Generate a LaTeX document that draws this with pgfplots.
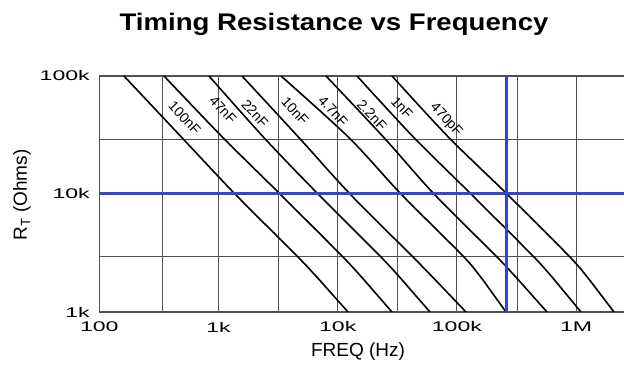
\documentclass[border=0pt]{standalone}
\usepackage{fontspec}
\setmainfont{Liberation Sans}
\newfontfamily\tickfont[FakeStretch=1.65]{Liberation Sans}
\newfontfamily\titlefont[FakeStretch=1.15]{Liberation Sans}
\usepackage{pgfplots}
\pgfplotsset{compat=1.18}
\definecolor{refblue}{RGB}{55,66,205}
\definecolor{gridgray}{RGB}{80,80,80}
\begin{document}
\begin{tikzpicture}
\path[use as bounding box] (-99.3pt,-67pt) rectangle (524.7pt,312pt);
\begin{axis}[
  at={(0pt,0pt)}, anchor=south west,
  scale only axis, width=524.7pt, height=236pt,
  xmode=log, ymode=log,
  xmin=100, xmax=2.523e6, ymin=1000, ymax=100000,
  axis x line*=bottom, axis y line*=left,
  axis line style={-, draw=gridgray, line width=1.6pt},
  xtick={100,1000,10000,100000,1000000},
  xticklabels={100,1k,10k,100k,1M},
  ytick={1000,10000,100000},
  yticklabels={1k,10k,100k},
  extra x ticks={340,3200,32000,320000},
  extra x tick labels={\empty,\empty,\empty,\empty},
  extra y ticks={2950,29000},
  extra y tick labels={\empty,\empty},
  extra tick style={grid=major},
  grid=major,
  major grid style={draw=gridgray, line width=1.1pt},
  tick style={draw=none},
  /pgf/number format/assume math mode=true,
  xticklabel style={font=\tickfont\fontsize{14}{14}\selectfont, anchor=center, yshift=-15pt},
  yticklabel style={font=\tickfont\fontsize{14}{14}\selectfont, anchor=east, xshift=-6pt},
  xlabel={FREQ (Hz)},
  ylabel={R\textsubscript{T} (Ohms)},
  every axis x label/.style={at={(axis description cs:0.493,-0.1695)}, anchor=center, font=\fontsize{19}{19}\selectfont},
  every axis y label/.style={at={(axis description cs:-0.1473,0.496)}, anchor=center, rotate=90, font=\fontsize{19}{19}\selectfont},
  title={Timing Resistance vs Frequency},
  title style={at={(axis description cs:0.4473,1.195)}, anchor=center, font=\titlefont\bfseries\fontsize{24}{24}\selectfont},
  clip=true,
]
% 100nF
\addplot[black, line width=1.6pt, smooth] coordinates {(161,100000) (494,30000) (1375,10000) (4529,3000) (6614,2000) (8536,1500) (12200,1000)};
% 47nF
\addplot[black, line width=1.6pt, smooth] coordinates {(349,100000) (1091,30000) (3281,10000) (10805,3000) (15690,2000) (20120,1500) (28540,1000)};
% 22nF
\addplot[black, line width=1.6pt, smooth] coordinates {(832,100000) (2408,30000) (6834,10000) (22500,3000) (32680,2000) (41920,1500) (59480,1000)};
% 10nF
\addplot[black, line width=1.6pt, smooth] coordinates {(1575,100000) (4735,30000) (12683,10000) (41760,3000) (61820,2000) (81200,1500) (119200,1000)};
% 4.7nF
\addplot[black, line width=1.6pt, smooth] coordinates {(3344,100000) (12440,30000) (33960,10000) (111900,3000) (157000,2000) (193400,1500) (258200,1000)};
% 2.2nF
\addplot[black, line width=1.6pt, smooth] coordinates {(7978,100000) (24460,30000) (64260,10000) (211600,3000) (308800,2000) (398400,1500) (570100,1000)};
% 1nF
\addplot[black, line width=1.6pt, smooth] coordinates {(14520,100000) (43670,30000) (131300,10000) (432300,3000) (621800,2000) (788400,1500) (1099000,1000)};
% 470pF
\addplot[black, line width=1.6pt, smooth] coordinates {(28540,100000) (85850,30000) (263200,10000) (866900,3000) (1229000,2000) (1531000,1500) (2080000,1000)};
% blue markers
\addplot[refblue, line width=3pt] coordinates {(100,10000) (2.523e6,10000)};
\addplot[refblue, line width=3pt] coordinates {(262000,1000) (262000,100000)};
% labels
\begin{scope}[every node/.style={rotate=-47, font=\fontsize{14}{14}\selectfont, inner sep=0pt}]
\node at (axis cs:520,44000) {100nF};
\node at (axis cs:1091,51500) {47nF};
\node at (axis cs:2024,48000) {22nF};
\node at (axis cs:4385,50500) {10nF};
\node at (axis cs:9140,50500) {4.7nF};
\node at (axis cs:19400,46700) {2.2nF};
\node at (axis cs:34600,54000) {1nF};
\node at (axis cs:81000,42500) {470pF};
\end{scope}
\end{axis}
\end{tikzpicture}
\end{document}
